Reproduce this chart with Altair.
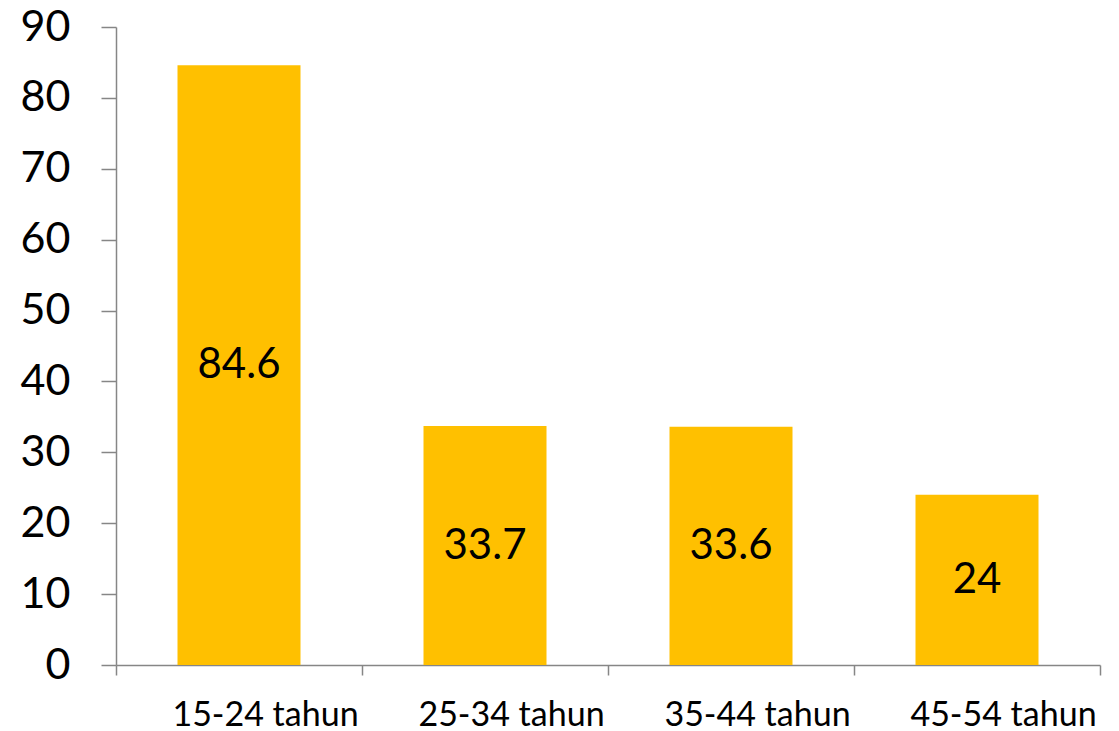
import altair as alt
import pandas as pd

categories = ["15-24 tahun", "25-34 tahun", "35-44 tahun", "45-54 tahun"]
values = [84.6, 33.7, 33.6, 24]
labels = ["84.6", "33.7", "33.6", "24"]

df = pd.DataFrame({"cat": categories, "val": values, "lab": labels})
df["mid"] = df["val"] / 2

FONT = "Lato"

x = alt.X("cat:N", sort=categories, title=None,
          scale=alt.Scale(paddingInner=0, paddingOuter=0),
          axis=alt.Axis(labelAngle=0, labelFont=FONT, labelFontSize=34, labelColor="black",
                        labelPadding=40, labelOffset=26, labelLimit=400, tickBand="extent",
                        tickSize=10, tickColor="#868686", domainColor="#868686",
                        labelBaseline="middle"))

bars = alt.Chart(df).mark_bar(color="#FFC000", width=alt.RelativeBandSize(0.5)).encode(
    x=x,
    y=alt.Y("val:Q", title=None,
            scale=alt.Scale(domain=[0, 90], nice=False),
            axis=alt.Axis(values=list(range(0, 91, 10)), labelFont=FONT, labelFontSize=43,
                          labelColor="black", tickSize=15, tickColor="#868686",
                          domainColor="#868686", grid=False, labelPadding=31)),
)

text = alt.Chart(df).mark_text(font=FONT, fontSize=42, color="black", baseline="middle").encode(
    x=alt.X("cat:N", sort=categories),
    y=alt.Y("mid:Q"),
    text="lab:N",
)

chart = (bars + text).properties(
    width=984, height=638,
    autosize=alt.AutoSizeParams(type="none"),
    padding={"left": 108, "top": 19, "right": 10, "bottom": 66},
).configure_view(stroke=None).configure_axis(domainWidth=1.5, tickWidth=1.5)

chart.save("out.html", embed_options={"renderer": "svg", "actions": False})
